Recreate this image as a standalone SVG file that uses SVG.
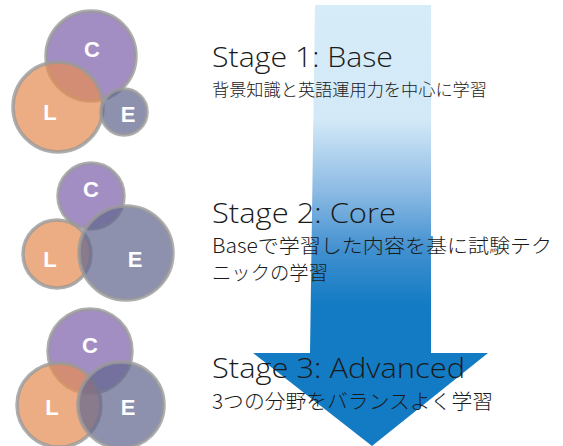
<svg xmlns="http://www.w3.org/2000/svg" width="563" height="446" viewBox="0 0 563 446">
<defs>
<linearGradient id="ag" x1="0" y1="5" x2="0" y2="446" gradientUnits="userSpaceOnUse">
<stop offset="0" stop-color="#d6ecf9"/>
<stop offset="0.26" stop-color="#d3e9f7"/>
<stop offset="0.42" stop-color="#8dbbe4"/>
<stop offset="0.56" stop-color="#3f8fcf"/>
<stop offset="0.68" stop-color="#137bc3"/>
<stop offset="1" stop-color="#137bc3"/>
</linearGradient>
<style>
.c{fill:#7f63ad;}
.l{fill:#e48e55;}
.e{fill:#63678f;}
.cir{fill-opacity:0.72;stroke:#9a9a9a;stroke-opacity:0.8;stroke-width:3.5;}
.lab{font-family:"Liberation Sans",Arial,sans-serif;font-weight:bold;font-size:22px;fill:#ffffff;text-anchor:middle;}
.ttl{font-family:"Open Sans","Noto Sans",sans-serif;font-weight:300;font-size:27px;fill:#1a1a1a;}
.jp{font-family:"Noto Sans CJK JP","Noto Sans",sans-serif;font-weight:300;fill:#1a1a1a;}
</style>
</defs>
<g id="arrow">
<path d="M315,5 L431,5 L431,353 L488,353 L372,446 L253,353 L310,353 Z" fill="url(#ag)"/>
</g>
<g id="stage1-venn">
<circle class="cir c" cx="91" cy="56" r="45"/>
<circle class="cir l" cx="58" cy="107" r="45"/>
<circle class="cir e" cx="124" cy="112" r="23"/>
<text class="lab" x="92" y="57">C</text>
<text class="lab" x="50" y="120">L</text>
<text class="lab" x="128" y="122">E</text>
</g>
<g id="stage2-venn">
<circle class="cir c" cx="91" cy="196" r="33"/>
<circle class="cir l" cx="57" cy="254" r="34"/>
<circle class="cir e" cx="126" cy="253" r="47"/>
<text class="lab" x="91" y="197">C</text>
<text class="lab" x="50" y="267">L</text>
<text class="lab" x="135" y="267">E</text>
</g>
<g id="stage3-venn">
<circle class="cir c" cx="90" cy="351" r="42"/>
<circle class="cir l" cx="59" cy="405" r="42"/>
<circle class="cir e" cx="121" cy="405" r="43"/>
<text class="lab" x="90" y="353">C</text>
<text class="lab" x="52" y="415">L</text>
<text class="lab" x="128" y="415">E</text>
</g>
<g id="stage1-text">
<text class="ttl" x="212" y="67" textLength="181" lengthAdjust="spacingAndGlyphs">Stage 1: Base</text>
<text class="jp" x="212" y="96" font-size="17.2" textLength="275" lengthAdjust="spacingAndGlyphs">背景知識と英語運用力を中心に学習</text>
</g>
<g id="stage2-text">
<text class="ttl" x="212" y="223" textLength="184" lengthAdjust="spacingAndGlyphs">Stage 2: Core</text>
<text class="jp" x="212" y="253" font-size="19.5" textLength="340" lengthAdjust="spacingAndGlyphs">Baseで学習した内容を基に試験テク</text>
<text class="jp" x="212" y="280" font-size="19.5" textLength="116" lengthAdjust="spacingAndGlyphs">ニックの学習</text>
</g>
<g id="stage3-text">
<text class="ttl" x="212" y="378" textLength="253" lengthAdjust="spacingAndGlyphs">Stage 3: Advanced</text>
<text class="jp" x="212" y="409" font-size="20" textLength="281" lengthAdjust="spacingAndGlyphs">3つの分野をバランスよく学習</text>
</g>
</svg>
